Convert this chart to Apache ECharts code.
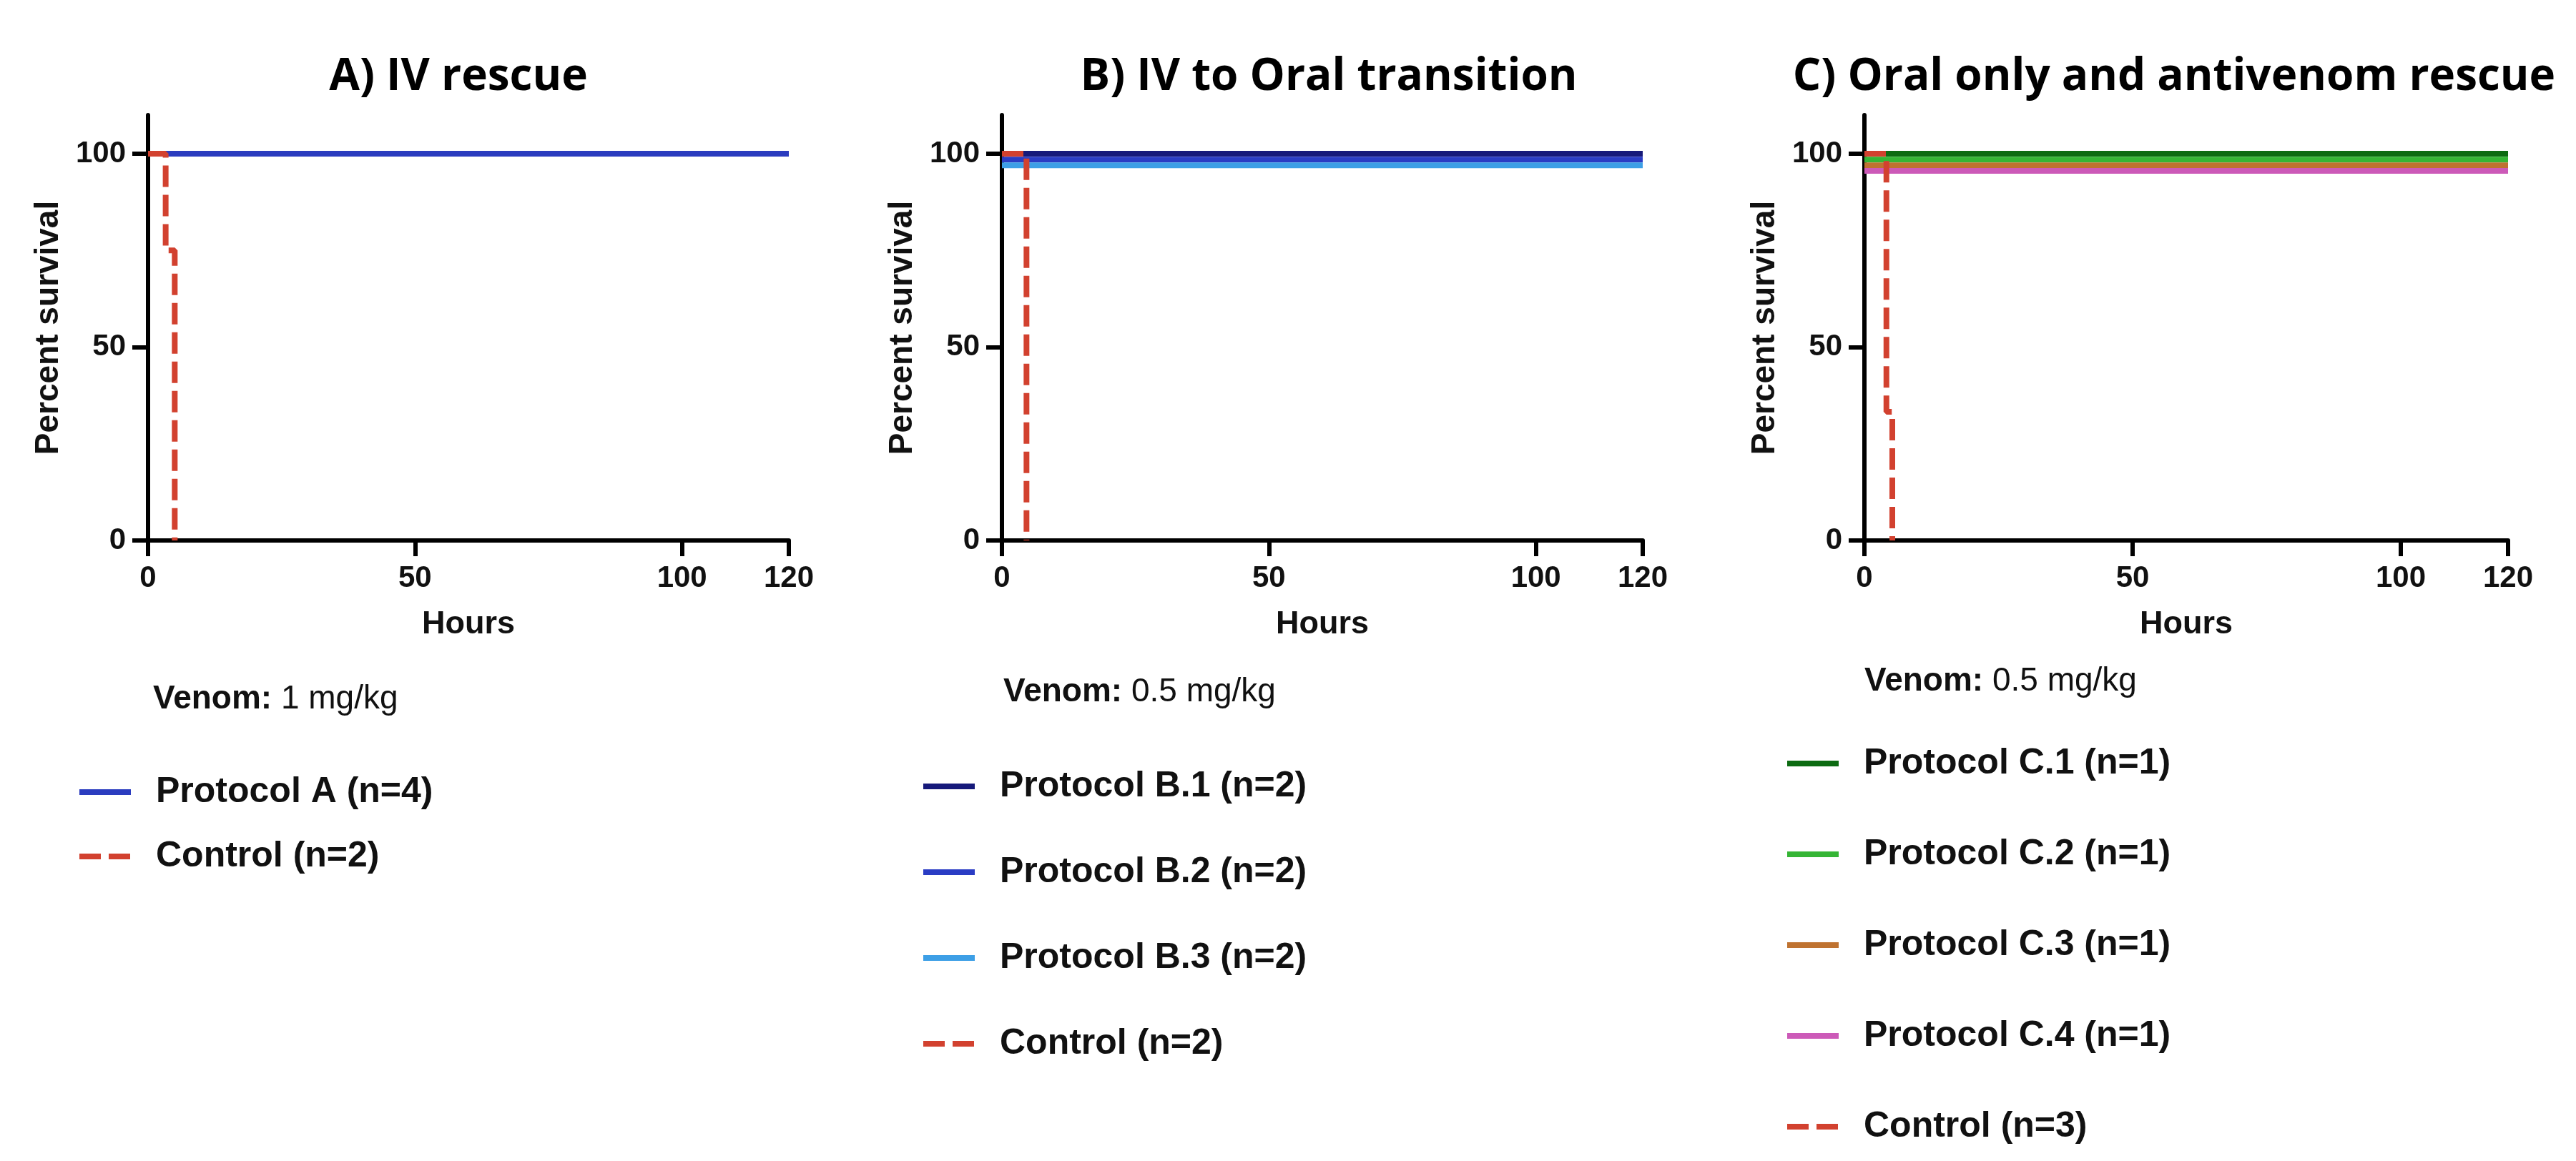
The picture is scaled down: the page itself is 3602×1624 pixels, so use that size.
<!DOCTYPE html>
<html><head><meta charset="utf-8">
<script src="https://cdn.jsdelivr.net/npm/echarts@6/dist/echarts.min.js"></script>
<style>html,body{margin:0;padding:0;background:#fff}#c{width:3602px;height:1624px}</style>
</head><body><div id="c"></div>
<script>
// ---- data ----
const panelTitles = ['A) IV rescue', 'B) IV to Oral transition', 'C) Oral only and antivenom rescue'];
const venomDoses = ['1 mg/kg', '0.5 mg/kg', '0.5 mg/kg'];
const xTicks = [0, 50, 100, 120];
const yTicks = [0, 50, 100];

// Panel A
const protocolA_hours = [0, 120];
const protocolA_surv  = [100, 100];
const controlA_hours  = [0, 3.3, 5];
const controlA_surv   = [100, 75, 0];

// Panel B
const protocolB1_hours = [0, 120];
const protocolB1_surv  = [100, 100];
const protocolB2_hours = [0, 120];
const protocolB2_surv  = [98.5, 98.5];
const protocolB3_hours = [0, 120];
const protocolB3_surv  = [97, 97];
const controlB_hours   = [0, 4.6];
const controlB_surv    = [100, 0];

// Panel C
const protocolC1_hours = [0, 120];
const protocolC1_surv  = [100, 100];
const protocolC2_hours = [0, 120];
const protocolC2_surv  = [98.5, 98.5];
const protocolC3_hours = [0, 120];
const protocolC3_surv  = [97, 97];
const protocolC4_hours = [0, 120];
const protocolC4_surv  = [95.6, 95.6];
const controlC_hours   = [0, 4.1, 5.2];
const controlC_surv    = [100, 33.3, 0];

// ---- layout / style ----
const FONT = 'Liberation Sans, Arial, sans-serif';
const grids = [
  {left: 207, top: 161, width: 896, height: 595},
  {left: 1401, top: 161, width: 896, height: 595},
  {left: 2607, top: 161, width: 900, height: 595}
];
const titleCenters = [636, 1853, 3035];

const zip = (t, s) => t.map((v, i) => [v, s[i]]);

const chart = echarts.init(document.getElementById('c'));

const axisLineStyle = {color: '#000', width: 6};
const xAxes = grids.map((g, i) => ({
  gridIndex: i, type: 'value', min: 0, max: 120,
  axisLine: {show: true, onZero: false, lineStyle: axisLineStyle},
  axisTick: {show: true, length: 22, lineStyle: {color: '#000', width: 6}, customValues: xTicks},
  axisLabel: {customValues: xTicks, margin: 32, fontSize: 42, fontWeight: 'bold', fontFamily: FONT, color: '#111'},
  splitLine: {show: false},
  name: 'Hours', nameLocation: 'middle', nameGap: 95,
  nameTextStyle: {fontSize: 45, fontWeight: 'bold', fontFamily: FONT, color: '#111'}
}));
const yAxes = grids.map((g, i) => ({
  gridIndex: i, type: 'value', min: 0, max: 110,
  axisLine: {show: true, onZero: false, lineStyle: axisLineStyle},
  axisTick: {show: true, length: 22, lineStyle: {color: '#000', width: 6}, customValues: yTicks},
  axisLabel: {customValues: yTicks, margin: 31, fontSize: 42, fontWeight: 'bold', fontFamily: FONT, color: '#111'},
  splitLine: {show: false},
  name: 'Percent survival', nameLocation: 'middle', nameGap: 116,
  nameTextStyle: {fontSize: 46, fontWeight: 'bold', fontFamily: FONT, color: '#111'}
}));

const DASH = [30, 11];
const LW = 8;
function line(name, panel, hours, surv, color, dashed, z) {
  return {
    name, type: 'line', xAxisIndex: panel, yAxisIndex: panel,
    data: zip(hours, surv), step: 'end', symbol: 'none', silent: true,
    z: z || 2,
    lineStyle: {color, width: LW, type: dashed ? DASH : 'solid', cap: 'butt'},
    itemStyle: {color}
  };
}
const RED = '#d2412f';
const series = [
  line('Protocol A (n=4)', 0, protocolA_hours, protocolA_surv, '#2b3cbf'),
  line('Control (n=2)', 0, controlA_hours, controlA_surv, RED, true, 5),
  line('Protocol B.1 (n=2)', 1, protocolB1_hours, protocolB1_surv, '#16197a'),
  line('Protocol B.2 (n=2)', 1, protocolB2_hours, protocolB2_surv, '#2a3cc4'),
  line('Protocol B.3 (n=2)', 1, protocolB3_hours, protocolB3_surv, '#3d9fe6'),
  line('Control (n=2) ', 1, controlB_hours, controlB_surv, RED, true, 5),
  line('Protocol C.1 (n=1)', 2, protocolC1_hours, protocolC1_surv, '#0d6b12'),
  line('Protocol C.2 (n=1)', 2, protocolC2_hours, protocolC2_surv, '#35b535'),
  line('Protocol C.3 (n=1)', 2, protocolC3_hours, protocolC3_surv, '#bf7230'),
  line('Protocol C.4 (n=1)', 2, protocolC4_hours, protocolC4_surv, '#cc5ab8'),
  line('Control (n=3)', 2, controlC_hours, controlC_surv, RED, true, 5)
];

const legendText = {fontSize: 50, fontWeight: 'bold', fontFamily: FONT, color: '#111', lineHeight: 50, padding: [0, 0, 0, 30]};
function legend(left, top, gap, names) {
  return {
    orient: 'vertical', left, top, itemGap: gap, data: names,
    itemWidth: 72, itemHeight: 20, selectedMode: false, textStyle: legendText,
    itemStyle: {opacity: 0, borderWidth: 0},
    lineStyle: {width: LW}
  };
}
const legends = [
  legend(102, 1078, 40, ['Protocol A (n=4)', 'Control (n=2)']),
  legend(1282, 1070, 70, ['Protocol B.1 (n=2)', 'Protocol B.2 (n=2)', 'Protocol B.3 (n=2)', 'Control (n=2) ']),
  legend(2490, 1038, 77, ['Protocol C.1 (n=1)', 'Protocol C.2 (n=1)', 'Protocol C.3 (n=1)', 'Protocol C.4 (n=1)', 'Control (n=3)'])
];

const venomPos = [[214, 978], [1403, 968], [2607, 953]];
const graphics = venomDoses.map((d, i) => ({
  type: 'text', x: venomPos[i][0], y: venomPos[i][1],
  style: {
    text: '{b|Venom:} ' + d,
    rich: {b: {fontWeight: 'bold', fontSize: 46, fontFamily: FONT, fill: '#111'}},
    fontSize: 46, fontFamily: FONT, fill: '#111', verticalAlign: 'middle', align: 'left'
  }
}));

const titles = panelTitles.map((t, i) => ({
  text: t, left: titleCenters[i], top: 72, textAlign: 'center',
  textStyle: {fontSize: 62, fontWeight: 'bold', fontFamily: 'Open Sans, sans-serif', color: '#000'}
}));

chart.setOption({
  backgroundColor: '#fff',
  animation: false,
  title: titles,
  grid: grids,
  xAxis: xAxes,
  yAxis: yAxes,
  legend: legends,
  series: series,
  graphic: graphics
});
</script></body></html>
